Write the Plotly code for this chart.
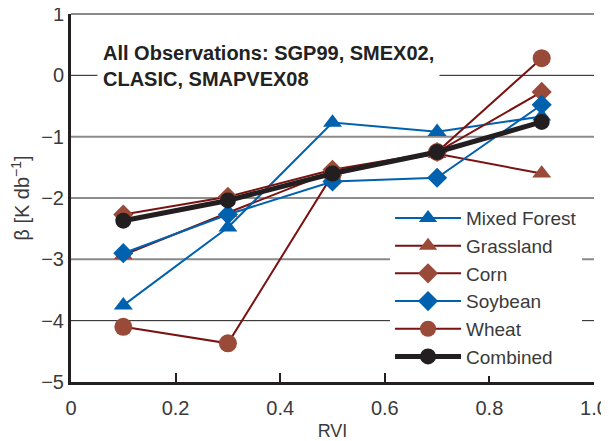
import plotly.graph_objects as go

# RVI bins
rvi = [0.1, 0.3, 0.5, 0.7, 0.9]

# beta [K db^-1] per land cover
mixed_forest = [-3.75, -2.48, -0.77, -0.92, -0.67]
grassland = [-2.93, -2.24, -1.57, -1.28, -1.60]
corn = [-2.27, -1.98, -1.54, -1.25, -0.27]
soybean = [-2.90, -2.27, -1.73, -1.67, -0.48]
wheat = [-4.10, -4.37, -1.62, -1.25, 0.28]
combined = [-2.37, -2.04, -1.60, -1.25, -0.76]

y_range = [-5, 1]
y_ticks = [-5, -4, -3, -2, -1, 0, 1]
x_ticks = [0, 0.2, 0.4, 0.6, 0.8, 1.0]
x_ticktext = ["0", "0.2", "0.4", "0.6", "0.8", "1.0"]
dark_grid = [0, -2, -4]
light_grid = [1, -1, -3]

BLUE = "#0061AE"
DARK_RED = "#7A1212"
BROWN = "#9A4A38"
BLACK = "#231F20"
FONT = "Liberation Sans"

# marker size per symbol (plotly sizes differ per shape)
SIZES = {"triangle-up": 16.5, "diamond": 15.5, "circle": 18}

series = [
    # name, values, line colour, marker colour, symbol, line width, legend rank
    ("Grassland", grassland, DARK_RED, BROWN, "triangle-up", 2, 2),
    ("Mixed Forest", mixed_forest, BLUE, BLUE, "triangle-up", 2, 1),
    ("Corn", corn, DARK_RED, BROWN, "diamond", 2, 3),
    ("Wheat", wheat, DARK_RED, BROWN, "circle", 2, 5),
    ("Soybean", soybean, BLUE, BLUE, "diamond", 2, 4),
    ("Combined", combined, BLACK, BLACK, "circle", 5, 6),
]

fig = go.Figure()

for name, vals, lcol, mcol, sym, lw, rank in series:
    size = SIZES[sym] if name != "Combined" else 16
    fig.add_trace(
        go.Scatter(
            x=rvi,
            y=vals,
            name=name,
            mode="lines+markers",
            line=dict(color=lcol, width=lw),
            marker=dict(color=mcol, symbol=sym, size=size, line=dict(width=0)),
            legendrank=rank,
            cliponaxis=False,
        )
    )


def _paper_y(level):
    # paper coords so the top grid line is not clipped at the plot edge
    return (level - y_range[0]) / (y_range[1] - y_range[0])


# alternating grid lines (dark / grey)
for lvl in dark_grid:
    fig.add_shape(
        type="line", xref="paper", yref="paper", x0=0, x1=1,
        y0=_paper_y(lvl), y1=_paper_y(lvl),
        line=dict(color="#1a1a1a", width=1), layer="below",
    )
for lvl in light_grid:
    fig.add_shape(
        type="line", xref="paper", yref="paper", x0=0, x1=1,
        y0=_paper_y(lvl), y1=_paper_y(lvl),
        line=dict(color="#8a8a8a", width=2), layer="below",
    )

fig.add_annotation(
    text="All Observations: SGP99, SMEX02,<br>CLASIC, SMAPVEX08",
    xref="paper", yref="paper", x=0.05, y=0.94,
    xanchor="left", yanchor="top", align="left", showarrow=False,
    font=dict(family=FONT, size=20, color="#222222", weight="bold"),
    bgcolor="white", borderpad=5,
)

# the page body adds an 8px offset, so the figure is 8px smaller
fig.update_layout(
    width=601,
    height=433,
    margin=dict(l=63, r=15, t=6, b=59, autoexpand=False),
    paper_bgcolor="white",
    plot_bgcolor="white",
    font=dict(family=FONT, size=20, color="#3a3a3a"),
    showlegend=True,
    legend=dict(
        x=0.61, y=0.016, xanchor="left", yanchor="bottom",
        bgcolor="white", font=dict(size=19, color="#3a3a3a"),
        tracegroupgap=0, itemwidth=66,
    ),
    xaxis=dict(
        range=[0, 1],
        tickvals=x_ticks,
        ticktext=x_ticktext,
        showgrid=False,
        zeroline=False,
        showline=True,
        linecolor=BLACK,
        linewidth=3,
        ticks="inside",
        ticklen=9,
        tickwidth=2,
        tickcolor=BLACK,
        tickfont=dict(size=20),
        ticklabelstandoff=6,
        ticklabeloverflow="allow",
        automargin=False,
        title=dict(text="RVI", font=dict(size=18), standoff=7),
    ),
    yaxis=dict(
        range=y_range,
        tickvals=y_ticks,
        showgrid=False,
        zeroline=False,
        showline=True,
        linecolor=BLACK,
        linewidth=3,
        ticks="",
        tickfont=dict(size=20),
        ticklabeloverflow="allow",
        automargin=False,
        title=dict(text="β [K db<sup>−1</sup>]", font=dict(size=20), standoff=8),
    ),
)

fig.write_html("out.html")
